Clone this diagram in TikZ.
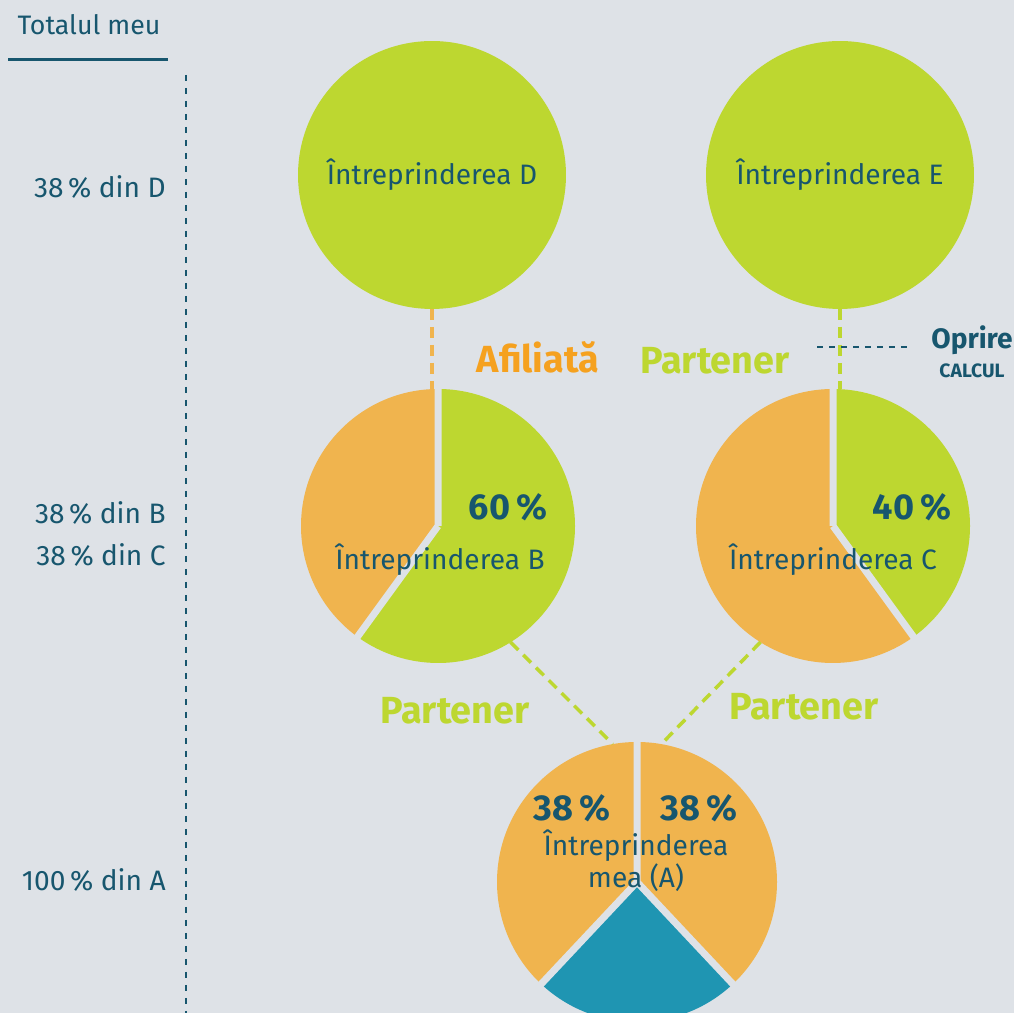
\documentclass[tikz,border=0pt]{standalone}
\usepackage{fontspec}
\setmainfont{Fira Sans}
\usepackage{xcolor}
\usepackage{tikz}
\usetikzlibrary{positioning}
\definecolor{bg}{HTML}{DEE2E7}
\definecolor{lime}{HTML}{BDD730}
\definecolor{peach}{HTML}{F0B44E}
\definecolor{amber}{HTML}{F5A11F}
\definecolor{sea}{HTML}{1F95B2}
\definecolor{ink}{HTML}{17566E}
\tikzstyle{firm}=[circle,inner sep=0pt,outer sep=0pt,align=center,text=ink,font=\fontsize{16}{18}\selectfont]
\tikzstyle{pie}=[circle,inner sep=0pt,outer sep=0pt,minimum size=#1]
\tikzstyle{pct}=[text=ink,font=\bfseries\fontsize{20.5}{22}\selectfont]
\tikzstyle{tag}=[font=\bfseries\fontsize{21.5}{24}\selectfont]
\tikzstyle{share}=[anchor=east,inner sep=0pt,text=ink,font=\fontsize{16}{18}\selectfont]
\tikzstyle{gap}=[draw=bg,line width=0.14cm]
\tikzstyle{link}=[line width=0.07cm,dash pattern=on 0.22cm off 0.14cm]
\tikzstyle{rule}=[ink,line width=0.045cm,dash pattern=on 0.13cm off 0.13cm]

\begin{document}
\begin{tikzpicture}[x=0.02cm,y=0.02cm]
	\useasboundingbox (0,0) rectangle (1014,1013);
	\clip (0,0) rectangle (1014,1013);
	\fill[bg] (0,0) rectangle (1014,1013);

% % % left column
	\node[share,anchor=center,font=\fontsize{15.2}{17}\selectfont] (total) at (89,988) {Totalul meu};
	\coordinate (ulL) at (8,953);
	\coordinate (ulR) at (168,953);
	\path[draw,ink,line width=0.06cm] (ulL) -- (ulR);
	\coordinate (axT) at (186,938);
	\coordinate (axB) at (186,0);
	\path[draw,rule] (axT) -- (axB);

	\node[share] (sD) at (166,826) {38\,\% din D};
	\node[share] (sB) at (166,500) {38\,\% din B};
	\node[share] (sC) at (166,458) {38\,\% din C};
	\node[share] (sA) at (166,133) {100\,\% din A};

% % % top row
	\node[firm,fill=lime,minimum size=5.36cm] (D) at (432,838) {Întreprinderea D};
	\node[firm,fill=lime,minimum size=5.36cm] (E) at (840,838) {Întreprinderea E};

% % % B
	\node[pie=5.48cm] (B) at (438,487) {};
	\fill[lime] (B.center) -- ++(90:137) arc[start angle=90,end angle=-126,radius=137] -- cycle;
	\fill[peach] (B.center) -- ++(90:137) arc[start angle=90,end angle=234,radius=137] -- cycle;
	\path[gap] (B.center) -- ++(90:140) (B.center) -- ++(234:140);
	\node[pct] (pB) at (508,506) {60\,\%};
	\node[firm] (nB) at (440,453) {Întreprinderea B};

% % % C
	\node[pie=5.48cm] (C) at (833,487) {};
	\fill[lime] (C.center) -- ++(90:137) arc[start angle=90,end angle=-54,radius=137] -- cycle;
	\fill[peach] (C.center) -- ++(90:137) arc[start angle=90,end angle=306,radius=137] -- cycle;
	\path[gap] (C.center) -- ++(90:140) (C.center) -- ++(-54:140);
	\node[pct] (pC) at (912,506) {40\,\%};
	\node[firm] (nC) at (833,453) {Întreprinderea C};

% % % A
	\node[pie=5.6cm] (A) at (637,131) {};
	\fill[peach] (A.center) -- ++(90:140) arc[start angle=90,end angle=-46.8,radius=140] -- cycle;
	\fill[peach] (A.center) -- ++(90:140) arc[start angle=90,end angle=226.8,radius=140] -- cycle;
	\fill[sea] (A.center) -- ++(226.8:140) arc[start angle=226.8,end angle=313.2,radius=140] -- cycle;
	\path[gap] (A.center) -- ++(90:145) (A.center) -- ++(226.8:145) (A.center) -- ++(313.2:145);
	\node[pct] (pA1) at (572,205) {38\,\%};
	\node[pct] (pA2) at (699,205) {38\,\%};
	\node[firm] (nA) at (636,152) {Întreprinderea\\mea (A)};

% % % links
	\path[draw,link,peach] (D.south) -- (D.south |- B.north);
	\path[draw,link,lime] (E.south) -- (E.south |- C.north);
	\path[draw,link,lime] (B.-58) -- (A.100);
	\path[draw,link,lime] (C.238) -- (A.80);

	\node[tag,amber] (aff) at (538,656) {Afiliată};
	\node[tag,lime] (pE) at (715,652) {Partener};
	\node[tag,lime] (pl) at (455,302) {Partener};
	\node[tag,lime] (pr) at (804,306) {Partener};

% % % stop
	\node[ink,font=\bfseries\fontsize{16}{18}\selectfont] (stop) at (972,673) {Oprire};
	\node[ink,font=\bfseries\fontsize{11}{13}\selectfont] (calc) at (972,642) {CALCUL};
	\coordinate (cutL) at (817,666);
	\coordinate (cutR) at (910,666);
	\path[draw,ink,line width=0.04cm,dash pattern=on 0.12cm off 0.12cm] (cutL) -- (cutR);
\end{tikzpicture}
\end{document}
